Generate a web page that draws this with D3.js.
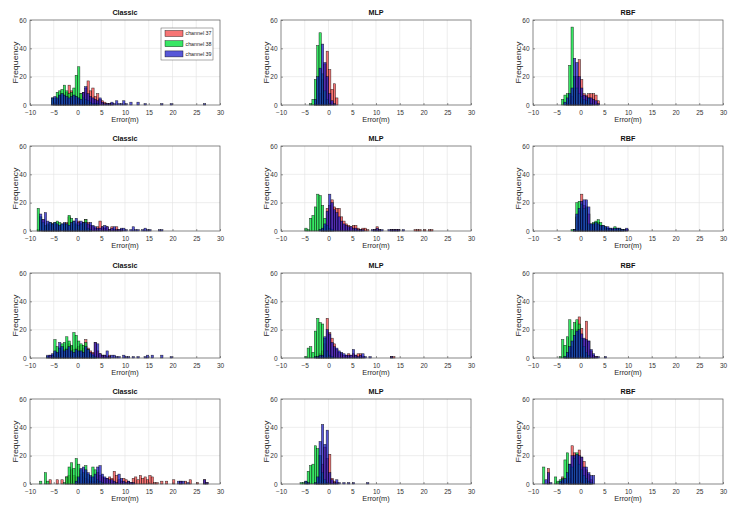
<!DOCTYPE html>
<html><head><meta charset="utf-8">
<script src="https://cdn.jsdelivr.net/npm/d3@7"></script>
<style>body{margin:0;background:#fff}svg{display:block}</style>
</head><body>
<svg id="c" width="737" height="520"></svg>
<script>
const titles = ["Classic", "MLP", "RBF"];
const channels = ["channel 37", "channel 38", "channel 39"];
const xTicks = [-10, -5, 0, 5, 10, 15, 20, 25, 30];
const yTicks = [0, 20, 40, 60];
const xLabel = "Error(m)";
const yLabel = "Frequency";
const binWidth = 0.5;
// left edge of the first bin for each panel (row-major)
const panelStart = [-5.5, -4.5, -4.5, -9, -5, -2, -7, -5, -5, -8.5, -6, -8.5];

// Row 1
const r1Classic37 = [0,2,4,6,8,7,9,14,10,7,6,5,8,9,12,17,10,12,6,8,4,3,2,1,1,1];
const r1Classic38 = [5,5,9,10,11,14,10,8,9,12,21,27,8,5,4,3,2,1,1,1];
const r1Classic39 = [5,6,5,7,8,7,6,5,6,7,6,5,4,9,13,8,6,5,4,3,5,2,1,1,1,2,1,3,1,1,3,1,0,2,0,0,2,0,0,1,0,0,0,0,0,0,1,0,0,0,1,0,0,0,0,0,0,0,0,0,0,0,0,0,1];
const r1MLP37 = [0,0,0,1,3,8,18,29,38,25,11,15,5];
const r1MLP38 = [0,1,4,18,42,51,22,10,4,1];
const r1MLP39 = [0,0,0,4,20,26,43,30,20,8,3,1];
const r1RBF37 = [0,0,0,1,3,6,12,20,32,18,8,7,8,8,8,7,3];
const r1RBF38 = [0,4,7,8,28,55,20,12,8,6,4,3,5,1];
const r1RBF39 = [0,0,2,5,8,12,33,30,20,12,7,6,5,5,4,3,1];
// Row 2
const r2Classic37 = [0,1,0,8,3,4,4,5,5,4,3,0,5,6,10,6,5,4,7,5,6,8,6,4,3,2,3,7,3,2,3,1,3,1,3,1,1];
const r2Classic38 = [0,16,10,6,4,5,6,5,6,7,6,5,5,5,11,9,7,5,4,5,6,8,2,1];
const r2Classic39 = [0,0,12,8,13,7,6,5,6,5,4,5,6,5,4,6,7,9,6,7,6,6,5,6,4,3,2,2,3,4,3,1,2,3,1,1,2,2,1,0,1,3,1,1,0,1,2,1,1,0,0,0,1,1];
const r2MLP37 = [0,0,0,0,0,0,0,1,3,16,18,22,17,16,16,10,7,5,4,3,4,4,2,1,2,2,1,0,0,1,3,1,0,0,0,0,1,1,1,1,0,0,0,0,0,0,1,1,1,0,1,0,1,1];
const r2MLP38 = [2,1,9,11,17,26,25,18,9,4,2,1];
const r2MLP39 = [0,0,0,0,0,0,1,2,5,14,26,20,15,13,10,7,5,4,3,3,2,2,1,1,1,0,0,0,1,1,2,1,1,0,0,1,1,1,1,1,0,1];
const r2RBF37 = [0,1,10,14,26,18,16,12,4,5,5,6,3,3,2,2,1,1,2,1,1,1,0,1];
const r2RBF38 = [1,1,20,21,19,16,17,5,5,6,7,8,6,4,3,2,2,1,3,2,2,1,1];
const r2RBF39 = [0,1,12,16,21,22,22,17,5,5,6,5,4,4,3,3,2,2,2,2,2,1,1,2];
// Row 3
const r3Classic37 = [0,0,2,2,3,3,4,5,6,7,10,8,6,7,8,9,7,13,7,5,4,11,5,3,2,2,1,2];
const r3Classic38 = [0,1,0,2,13,8,7,10,11,15,12,9,18,16,12,10,9,11,6,3,2,1];
const r3Classic39 = [0,2,2,3,5,4,11,8,5,6,8,5,4,6,5,5,4,8,6,4,3,11,10,3,2,2,5,1,2,2,1,1,0,2,1,1,0,1,0,1,0,0,1,2,0,2,0,0,0,2,0,0,0,1];
const r3MLP37 = [0,0,0,0,0,1,3,5,10,28,18,14,10,6,4,3,2,2,3,2,3,2,3,3,1,0,0,0,0,0,0,0,0,0,0,0,1,1];
const r3MLP38 = [1,7,8,4,19,28,25,24,14,5,2,1];
const r3MLP39 = [0,0,0,0,1,1,2,2,15,20,17,11,8,7,5,4,3,2,2,2,6,2,1,2,3,1,0,1,0,0,0,0,0,0,0,0,1];
const r3RBF37 = [0,0,0,1,2,4,8,12,20,29,21,13,26,12,5,2,1];
const r3RBF38 = [0,1,13,9,15,27,20,25,27,24,14,8,4,2];
const r3RBF39 = [0,0,0,1,4,8,12,16,19,20,17,14,13,12,6,3,1,1,0,0,1];
// Row 4
const r4Classic37 = [0,0,0,0,0,3,0,0,3,0,3,0,5,6,10,6,5,4,7,5,4,3,2,2,2,8,6,5,4,4,5,4,9,6,3,2,4,3,2,1,4,5,3,6,4,5,3,6,5,1,1,0,2,0,2,0,0,3,0,0,2,0,2,0,3,0,0,1,0,0,3,1];
const r4Classic38 = [0,2,0,8,2,0,0,0,0,0,0,1,5,12,15,11,18,14,10,8,13,7,5,12,10,3,2,1];
const r4Classic39 = [0,0,0,0,0,0,0,0,0,0,0,0,0,0,0,0,2,5,11,12,10,8,6,5,7,12,13,7,5,4,3,3,2,1,7,4,2,1,2,1,1,0,0,0,0,0,0,0,0,0,0,0,0,0,0,0,0,0,0,2,2,2,0,1,0,0,0,0,0,0,3,1];
const r4MLP37 = [0,0,0,0,0,0,0,1,5,14,26,18,21,4,2,1];
const r4MLP38 = [1,1,2,9,13,14,27,25,20,8,3,1];
const r4MLP39 = [0,0,2,1,0,0,1,5,30,42,28,38,8,3,1,3,1,0,1,0,1,0,1,0,0,0,0,0,1];
const r4RBF37 = [0,0,0,11,0,0,0,0,0,5,0,0,4,27,22,20,24,19,16,10,7,3];
const r4RBF38 = [0,12,0,0,0,0,5,2,3,4,17,22,14,12,18,22,14,10,6,4,2,1];
const r4RBF39 = [0,0,3,8,1,0,0,0,2,3,4,8,14,20,20,21,20,19,12,12,8,6,6];

const panelSeries = [
  [r1Classic37, r1Classic38, r1Classic39], [r1MLP37, r1MLP38, r1MLP39], [r1RBF37, r1RBF38, r1RBF39],
  [r2Classic37, r2Classic38, r2Classic39], [r2MLP37, r2MLP38, r2MLP39], [r2RBF37, r2RBF38, r2RBF39],
  [r3Classic37, r3Classic38, r3Classic39], [r3MLP37, r3MLP38, r3MLP39], [r3RBF37, r3RBF38, r3RBF39],
  [r4Classic37, r4Classic38, r4Classic39], [r4MLP37, r4MLP38, r4MLP39], [r4RBF37, r4RBF38, r4RBF39]
];

// styles
const fills = ["#f01818", "#00e03a", "#1010c8"];
const fillOpacity = [0.6, 0.78, 0.7];
const colX = [30, 281, 533];
const rowY = [20, 146, 273, 399];
const W = 190, H = 85;
const font = "'Liberation Sans', Arial, sans-serif";

const svg = d3.select("#c");
svg.append("rect").attr("width", 737).attr("height", 520).attr("fill", "#fff");

panelSeries.forEach((series, p) => {
  const r = Math.floor(p / 3), c = p % 3;
  const g = svg.append("g").attr("transform", `translate(${colX[c]},${rowY[r]})`);
  const x = d3.scaleLinear().domain([xTicks[0], xTicks[xTicks.length - 1]]).range([0, W]);
  const y = d3.scaleLinear().domain([yTicks[0], yTicks[yTicks.length - 1]]).range([H, 0]);

  g.append("rect").attr("width", W).attr("height", H).attr("fill", "#fff");
  // grid
  g.selectAll(".gx").data(xTicks.slice(1, -1)).join("line")
    .attr("x1", d => x(d)).attr("x2", d => x(d)).attr("y1", 0).attr("y2", H)
    .attr("stroke", "#e3e3e3").attr("stroke-width", 0.6);
  g.selectAll(".gy").data(yTicks.slice(1, -1)).join("line")
    .attr("y1", d => y(d)).attr("y2", d => y(d)).attr("x1", 0).attr("x2", W)
    .attr("stroke", "#e3e3e3").attr("stroke-width", 0.6);

  // bars
  series.forEach((counts, s) => {
    const start = panelStart[p];
    const bins = counts.map((v, i) => ({ x0: start + i * binWidth, x1: start + (i + 1) * binWidth, v }))
      .filter(d => d.v > 0);
    g.append("g").selectAll("rect").data(bins).join("rect")
      .attr("x", d => x(d.x0)).attr("width", d => x(d.x1) - x(d.x0))
      .attr("y", d => y(d.v)).attr("height", d => y(0) - y(d.v))
      .attr("fill", fills[s]).attr("fill-opacity", fillOpacity[s])
      .attr("stroke", "#000").attr("stroke-opacity", 0.8).attr("stroke-width", 0.5);
  });

  // axes
  const ax = g.append("g").attr("transform", `translate(0,${H})`)
    .call(d3.axisBottom(x).tickValues(xTicks).tickSize(-2).tickPadding(5.5));
  const ay = g.append("g")
    .call(d3.axisLeft(y).tickValues(yTicks).tickSize(-2).tickPadding(3.5));
  [ax, ay].forEach(a => {
    a.select(".domain").remove();
    a.selectAll("line").attr("stroke", "#333").attr("stroke-width", 0.5);
    a.selectAll("text").attr("fill", "#333").style("font-size", "6.5px").style("font-family", font);
  });
  g.append("rect").attr("width", W).attr("height", H).attr("fill", "none")
    .attr("stroke", "#555").attr("stroke-width", 0.7);

  // labels
  g.append("text").attr("x", W / 2).attr("y", -4.8).attr("text-anchor", "middle")
    .style("font-family", font).style("font-size", "7.2px").style("font-weight", "bold")
    .attr("fill", "#111").text(titles[c]);
  g.append("text").attr("x", W / 2).attr("y", H + 17).attr("text-anchor", "middle")
    .style("font-family", font).style("font-size", "7.4px").attr("fill", "#262626").text(xLabel);
  g.append("text").attr("transform", `translate(-12.5,${H / 2}) rotate(-90)`).attr("text-anchor", "middle")
    .style("font-family", font).style("font-size", "8px").attr("fill", "#262626")
    .attr("textLength", 42).attr("lengthAdjust", "spacingAndGlyphs").text(yLabel);

  // legend in first panel
  if (p === 0) {
    const lg = g.append("g").attr("transform", "translate(131,8)");
    lg.append("rect").attr("width", 52).attr("height", 32).attr("fill", "#fff")
      .attr("stroke", "#555").attr("stroke-width", 0.5);
    channels.forEach((name, i) => {
      const cy = 5.5 + i * 10.2;
      lg.append("rect").attr("x", 4).attr("y", cy - 3).attr("width", 18).attr("height", 6)
        .attr("fill", fills[i]).attr("fill-opacity", fillOpacity[i])
        .attr("stroke", "#000").attr("stroke-opacity", 0.8).attr("stroke-width", 0.5);
      lg.append("text").attr("x", 24.5).attr("y", cy).attr("dy", "0.35em")
        .style("font-family", font).style("font-size", "5.3px").attr("fill", "#222").text(name);
    });
  }
});
</script>
</body></html>
